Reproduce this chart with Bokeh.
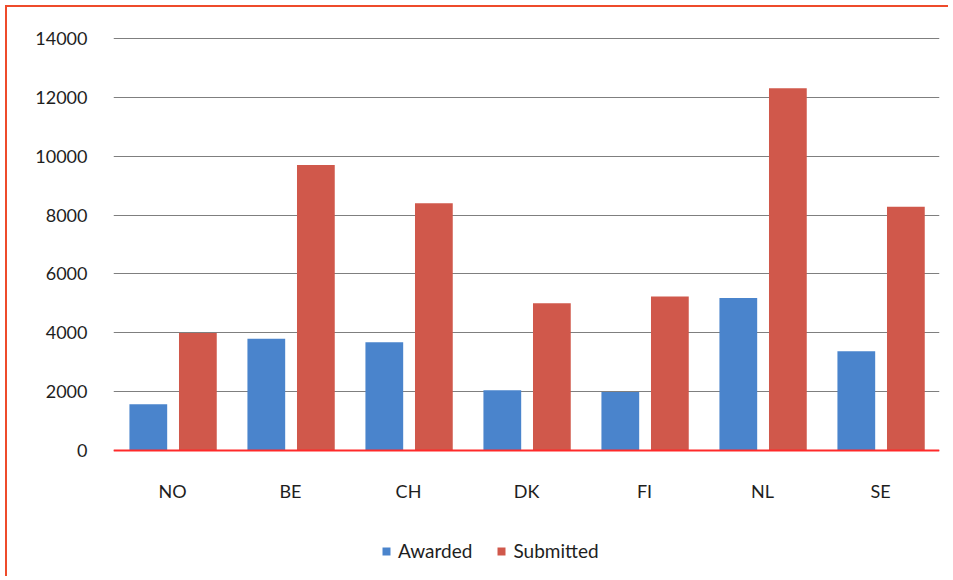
from bokeh.plotting import figure
from bokeh.models import ColumnDataSource, FactorRange, Range1d, FixedTicker, Span, Legend, LegendItem
from bokeh.core.properties import value
from bokeh.transform import dodge
from bokeh.embed import file_html
from bokeh.resources import INLINE

countries = ["NO", "BE", "CH", "DK", "FI", "NL", "SE"]
awarded = [1570, 3800, 3680, 2050, 1990, 5180, 3370]
submitted = [3990, 9700, 8400, 5000, 5230, 12310, 8280]
y_ticks = [0, 2000, 4000, 6000, 8000, 10000, 12000, 14000]

BLUE = "#4A84CC"
RED = "#D0584B"
FONT = "Lato"
TEXT = "#1E1E1E"

source = ColumnDataSource(data=dict(country=countries, awarded=awarded, submitted=submitted,
                                    label_y=[-1393] * len(countries)))

p = figure(
    width=943, height=571,
    x_range=FactorRange(*countries),
    y_range=Range1d(-4350, 14100),
    output_backend="svg", toolbar_location=None,
    min_border_left=106, min_border_right=11, min_border_top=28, min_border_bottom=0,
    background_fill_color="white", border_fill_color="white",
)
p.styles = {"margin-top": "5px", "margin-left": "5px",
            "border-top": "2px solid #EE4B2B", "border-left": "2px solid #EE4B2B"}
p.outline_line_color = None

r1 = p.vbar(x=dodge("country", -0.205, range=p.x_range), top="awarded", width=0.32,
            source=source, fill_color=BLUE, line_color=None)
r2 = p.vbar(x=dodge("country", 0.215, range=p.x_range), top="submitted", width=0.32,
            source=source, fill_color=RED, line_color=None)

p.add_layout(Span(location=0, dimension="width", line_color="#FF2A2A", line_width=2))

# category labels under the baseline
p.text(x="country", y="label_y", text="country", source=source,
       text_font=value(FONT), text_font_size="18px", text_color=TEXT,
       text_align="center", text_baseline="middle")

p.xaxis.visible = False
p.xgrid.grid_line_color = None
p.ygrid.grid_line_color = "#7F7F7F"
p.ygrid.grid_line_width = 1
p.yaxis.ticker = FixedTicker(ticks=y_ticks)
p.yaxis.axis_line_color = None
p.yaxis.major_tick_line_color = None
p.yaxis.minor_tick_line_color = None
p.yaxis.major_label_text_font = FONT
p.yaxis.major_label_text_font_size = "18px"
p.yaxis.major_label_text_color = TEXT
p.yaxis.major_label_standoff = 20

legend = Legend(items=[LegendItem(label="Awarded", renderers=[r1]),
                       LegendItem(label="Submitted", renderers=[r2])],
                orientation="horizontal", location=(268, 16))
legend.label_text_font = FONT
legend.label_text_font_size = "19px"
legend.label_text_color = TEXT
legend.glyph_width = 10
legend.glyph_height = 10
legend.spacing = 24
legend.label_standoff = 7
legend.border_line_color = None
legend.background_fill_alpha = 0
legend.margin = 0
legend.padding = 4
p.add_layout(legend)

open("out.html", "w").write(file_html(p, INLINE))
